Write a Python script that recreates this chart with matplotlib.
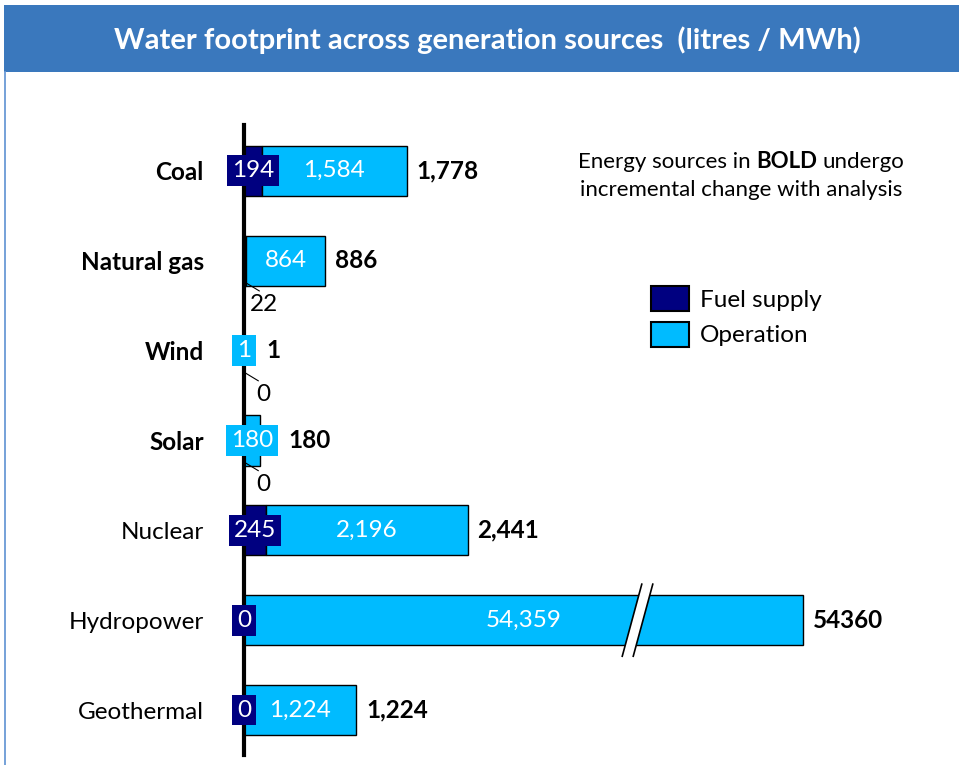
import matplotlib
matplotlib.use("Agg")
import matplotlib.pyplot as plt
from matplotlib.patches import Rectangle, Polygon, Patch
from matplotlib.lines import Line2D

plt.rcParams['font.family'] = ['Lato', 'DejaVu Sans']

# ---- data -----------------------------------------------------------------
sources = ["Coal", "Natural gas", "Wind", "Solar", "Nuclear", "Hydropower", "Geothermal"]
fuel_supply = [194, 22, 0, 0, 245, 0, 0]
operation = [1584, 864, 1, 180, 2196, 54359, 1224]
total_labels = ["1,778", "886", "1", "180", "2,441", "54360", "1,224"]
bold_sources = ["Coal", "Natural gas", "Wind", "Solar"]
callout_fuel = ["Natural gas", "Wind", "Solar"]   # fuel values shown with a leader line

title = "Water footprint across generation sources  (litres / MWh)"
note_parts = ["Energy sources in", "BOLD", "undergo"]
note_line2 = "incremental change with analysis"

NAVY = "#000080"
SKY = "#00BBFF"
BANNER = "#3A78BD"
FS = 17.5

# long bars are squeezed past the axis break
BREAK = 4000
SQUEEZE = 0.0418


def shown(v):
    return v if v <= BREAK else BREAK + (v - BREAK) * SQUEEZE


W, H = 959, 765
fig = plt.figure(figsize=(W / 100, H / 100), dpi=100)


def fx(px):
    return px / W


def fy(py):
    return 1 - py / H


# header banner and frame edge
fig.patches.append(Rectangle((fx(4), fy(72)), 1 - fx(4), (72 - 5) / H,
                             transform=fig.transFigure, facecolor=BANNER,
                             edgecolor="none", zorder=0))
fig.lines.append(Line2D([fx(5), fx(5)], [fy(72), 0], transform=fig.transFigure,
                        color="#6A9AD6", lw=1.3))
fig.text(fx(487), fy(40), title, color="white", fontsize=21, fontweight="bold",
         ha="center", va="center")

# ---- chart -----------------------------------------------------------------
ax = fig.add_axes([fx(244), fy(755), fx(959) - fx(244), (755 - 125) / H])
ax.set_xlim(0, 715 / 0.0916)
ax.set_ylim(6.5, -0.51)
for s in ("top", "right", "bottom"):
    ax.spines[s].set_visible(False)
ax.spines["left"].set_linewidth(3)
ax.spines["left"].set_color("black")
ax.set_xticks([])
ax.set_yticks(range(len(sources)))
ax.set_yticklabels(sources, fontsize=FS)
for lab in ax.get_yticklabels():
    if lab.get_text() in bold_sources:
        lab.set_fontweight("bold")
ax.tick_params(axis="y", length=0, pad=29)
ax.patch.set_alpha(0)

ypos = list(range(len(sources)))
fuel_end = [shown(f) for f in fuel_supply]
tot_end = [shown(f + o) for f, o in zip(fuel_supply, operation)]
op_width = [t - f for t, f in zip(tot_end, fuel_end)]

ax.barh(ypos, fuel_end, height=0.56, color=NAVY, edgecolor="black", lw=1, zorder=1)
ax.barh(ypos, op_width, left=fuel_end, height=0.56, color=SKY, edgecolor="black",
        lw=1, zorder=1)

op_texts = []
for i, name in enumerate(sources):
    # operation value in the middle of its segment
    t = ax.text(fuel_end[i] + op_width[i] / 2, i, f"{operation[i]:,}", color="white",
                fontsize=FS, ha="center", va="center", zorder=4,
                bbox=dict(boxstyle="square,pad=0.2", facecolor=SKY, edgecolor="none"))
    op_texts.append(t)
    # fuel supply value
    if name in callout_fuel:
        ax.annotate(f"{fuel_supply[i]:,}", xy=(fuel_end[i] / 2, i + 0.24),
                    xytext=(19, -22), textcoords="offset pixels", fontsize=FS,
                    ha="center", va="center", color="black", zorder=4,
                    arrowprops=dict(arrowstyle="-", lw=0.8, color="black",
                                    shrinkA=0, shrinkB=0, relpos=(0.5, 1.0)))
    else:
        ax.text(fuel_end[i] / 2, i, f"{fuel_supply[i]:,}", color="white",
                fontsize=FS, ha="center", va="center", zorder=4,
                bbox=dict(boxstyle="square,pad=0.2", facecolor=NAVY, edgecolor="none"))

# totals sit just past the bar end, or past the operation label when it pokes out
fig.canvas.draw()
renderer = fig.canvas.get_renderer()
for i, t in enumerate(op_texts):
    bar_px = ax.transData.transform((tot_end[i], i))[0]
    box_px = t.get_bbox_patch().get_window_extent(renderer).x1
    start_px = max(bar_px, box_px)
    x_data = ax.transData.inverted().transform((start_px, 0))[0]
    ax.annotate(total_labels[i], xy=(x_data, i), xytext=(10, 0),
                textcoords="offset pixels", fontsize=FS, fontweight="bold",
                ha="left", va="center", color="black")

# axis-break marks on the hydropower bar
hy = sources.index("Hydropower")
x0, dx, gap, hh = 4127, 218, 120, 0.41
brk = Polygon([(x0, hy + hh), (x0 + dx, hy - hh), (x0 + dx + gap, hy - hh),
               (x0 + gap, hy + hh)], closed=True, facecolor="white",
              edgecolor="none", zorder=2)
ax.add_patch(brk)
for off in (0, gap):
    ax.plot([x0 + off, x0 + dx + off], [hy + hh, hy - hh], color="black", lw=1.2,
            zorder=3, solid_capstyle="butt")

# ---- legend ----------------------------------------------------------------
em = FS * 100 / 72
handles = [Patch(facecolor=NAVY, edgecolor="black", lw=1.5, label="Fuel supply"),
           Patch(facecolor=SKY, edgecolor="black", lw=1.5, label="Operation")]
fig.legend(handles=handles, loc="upper left", bbox_to_anchor=(fx(651), fy(286)),
           frameon=False, fontsize=FS, handlelength=38 / em, handleheight=29 / em,
           handletextpad=11 / em, labelspacing=11 / em, borderpad=0, borderaxespad=0)

# ---- note with a bold word -------------------------------------------------
NOTE_SIZE = 16


def text_width(s, weight="normal"):
    tt = fig.text(0, 0, s, fontsize=NOTE_SIZE, fontweight=weight)
    w = tt.get_window_extent(renderer).width
    tt.remove()
    return w


space = text_width("x x") - text_width("xx")
weights = ["normal", "bold", "normal"]
widths = [text_width(p, w) for p, w in zip(note_parts, weights)]
total_w = sum(widths) + 2 * space
cx, ly1, ly2 = 741, 162, 190
x = cx - total_w / 2
for p, w, wd in zip(note_parts, weights, widths):
    fig.text(fx(x), fy(ly1), p, fontsize=NOTE_SIZE, fontweight=w, ha="left",
             va="center")
    x += wd + space
fig.text(fx(cx), fy(ly2), note_line2, fontsize=NOTE_SIZE, ha="center", va="center")

fig.savefig("out.png", dpi=100)
